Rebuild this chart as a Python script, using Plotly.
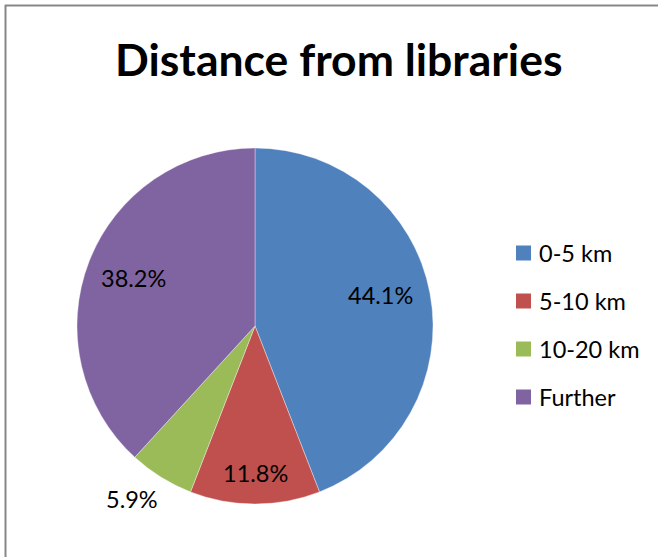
import math
import plotly.graph_objects as go

# Survey answers: how far respondents live from a library (percent of replies)
categories = ["0-5 km", "5-10 km", "10-20 km", "Further"]
shares = [44.1, 11.8, 5.9, 38.2]
colors = ["#4F81BD", "#C0504D", "#9BBB59", "#8064A2"]

# Label placement along each slice's mid-angle, as a fraction of the radius
label_radius = [0.725, 0.826, 1.19, 0.733]
label_nudge_deg = [-3.5, 0.0, 3.5, 0.5]

W, H = 659, 557
FONT = "Lato, 'Open Sans', sans-serif"

# Pie geometry in pixels
cx, cy, r = 255, 326, 178


def px_x(v):
    return v / W


def px_y(v):
    return 1 - v / H


fig = go.Figure()
fig.add_trace(go.Pie(
    labels=categories,
    values=shares,
    marker=dict(colors=colors, line=dict(color="rgba(255,255,255,0.6)", width=0.6)),
    sort=False,
    direction="clockwise",
    rotation=0,
    textinfo="none",
    hoverinfo="label+percent",
    showlegend=False,
    domain=dict(x=[px_x(cx - r), px_x(cx + r)], y=[px_y(cy + r), px_y(cy - r)]),
))

# Percentage labels at each slice's mid-angle
total = sum(shares)
cum = 0.0
annotations = []
for share, k, nudge in zip(shares, label_radius, label_nudge_deg):
    mid = (cum + share / 2) / total
    cum += share
    ang = math.radians(mid * 360 + nudge)
    lx = cx + math.sin(ang) * k * r
    ly = cy - math.cos(ang) * k * r
    annotations.append(dict(
        x=px_x(lx), y=px_y(ly), xref="paper", yref="paper",
        text=f"{share / total * 100:.1f}%", showarrow=False,
        xanchor="center", yanchor="middle",
        font=dict(family=FONT, size=23.5, color="#000000"),
    ))

# Title
annotations.append(dict(
    x=px_x(338), y=px_y(59), xref="paper", yref="paper",
    text="<b>Distance from libraries</b>", showarrow=False,
    xanchor="center", yanchor="middle",
    font=dict(family=FONT, size=44.5, color="#000000"),
))

# Legend: colour swatch plus category name
shapes = []
legend_top, legend_step = 253, 48
for i, (name, col) in enumerate(zip(categories, colors)):
    yc = legend_top + i * legend_step
    shapes.append(dict(
        type="rect", xref="paper", yref="paper",
        x0=px_x(516), x1=px_x(531), y0=px_y(yc + 7.5), y1=px_y(yc - 7.5),
        fillcolor=col, line=dict(width=0),
    ))
    annotations.append(dict(
        x=px_x(537), y=px_y(yc), xref="paper", yref="paper",
        text=name, showarrow=False, xanchor="left", yanchor="middle",
        font=dict(family=FONT, size=23.5, color="#000000"),
    ))

# Chart-area frame (top and left edges)
frame = dict(color="#878787", width=2)
shapes.append(dict(type="line", xref="paper", yref="paper",
                   x0=px_x(5), x1=px_x(658), y0=px_y(5.5), y1=px_y(5.5), line=frame))
shapes.append(dict(type="line", xref="paper", yref="paper",
                   x0=px_x(5.5), x1=px_x(5.5), y0=px_y(5), y1=px_y(557), line=frame))

fig.update_layout(
    width=W, height=H,
    margin=dict(l=0, r=0, t=0, b=0),
    paper_bgcolor="#FFFFFF",
    plot_bgcolor="#FFFFFF",
    annotations=annotations,
    shapes=shapes,
    font=dict(family=FONT),
)

fig.write_html("out.html")
